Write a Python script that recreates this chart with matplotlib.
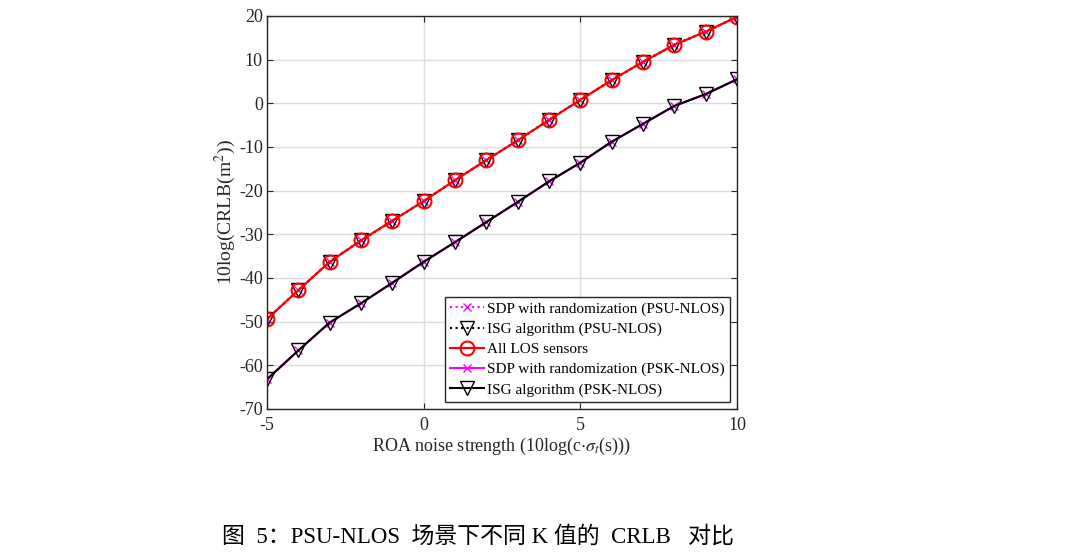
import numpy as np
import matplotlib
matplotlib.use("Agg")
import matplotlib.pyplot as plt

# datos
ruido = [-5, -4, -3, -2, -1, 0, 1, 2, 3, 4, 5, 6, 7, 8, 9, 10]
crlb_los = [-49.4, -42.8, -36.3, -31.4, -26.9, -22.4, -17.6, -13.0, -8.5, -3.8,
            0.8, 5.3, 9.5, 13.4, 16.4, 19.8]
crlb_psk = [-63.2, -56.6, -50.2, -45.8, -41.1, -36.3, -31.8, -27.2, -22.6, -17.9,
            -13.6, -8.8, -4.7, -0.6, 2.1, 5.5]
# en PSU-NLOS las curvas coinciden con la de todos los sensores LOS
crlb_sdp_psu = crlb_los
crlb_isg_psu = crlb_los
crlb_sdp_psk = crlb_psk
crlb_isg_psk = crlb_psk

etiquetas = ["SDP with randomization (PSU-NLOS)", "ISG algorithm (PSU-NLOS)",
             "All LOS sensors", "SDP with randomization (PSK-NLOS)",
             "ISG algorithm (PSK-NLOS)"]

plt.rcParams['font.family'] = ['Liberation Serif', 'Noto Sans CJK SC']
plt.rcParams['mathtext.fontset'] = 'stix'
plt.rcParams['axes.unicode_minus'] = False

gris = '#262626'

fig = plt.figure(figsize=(10.8, 5.53), dpi=100)
ax = fig.add_axes([0.2472, 0.2604, 0.4352, 0.7107])

ax.plot(ruido, crlb_sdp_psu, linestyle=':', color='magenta', marker='x',
        markersize=6, linewidth=1.5, label=etiquetas[0])
ax.plot(ruido, crlb_isg_psu, linestyle=':', color='black', marker='v',
        markersize=9.5, markerfacecolor='none', linewidth=1.5, label=etiquetas[1])
ax.plot(ruido, crlb_los, linestyle='-', color='red', marker='o',
        markersize=10, markerfacecolor='none', markeredgewidth=1.5,
        linewidth=1.6, label=etiquetas[2])
ax.plot(ruido, crlb_sdp_psk, linestyle='-', color='magenta', marker='x',
        markersize=6, linewidth=1.5, label=etiquetas[3])
ax.plot(ruido, crlb_isg_psk, linestyle='-', color='black', marker='v',
        markersize=9.5, markerfacecolor='none', linewidth=1.5, label=etiquetas[4])

ax.set_xlim(-5, 10)
ax.set_ylim(-70, 20)
ax.set_xticks([-5, 0, 5, 10])
ax.set_yticks(np.arange(-70, 21, 10))
ax.grid(True, color='#dcdcdc', linewidth=1)
ax.set_axisbelow(True)
ax.tick_params(direction='in', top=True, right=True, labelsize=13, length=4,
               colors=gris, labelcolor=gris, pad=3)
ax.tick_params(axis='x', pad=6)
for s in ax.spines.values():
    s.set_linewidth(1.0)
    s.set_color(gris)

ax.set_xlabel(r"ROA noise strength (10log(c$\cdot\sigma_t$(s)))", fontsize=13,
              color=gris, labelpad=1)
ax.set_ylabel(r"10log(CRLB(m$^2$))", fontsize=14, color=gris, labelpad=1)

leg = ax.legend(loc='lower right', fontsize=11, frameon=True, fancybox=False,
                framealpha=1, edgecolor=gris, borderpad=0.35, labelspacing=0.42,
                handlelength=2.2, handletextpad=0.2, borderaxespad=0.45)
leg.get_frame().set_linewidth(1.0)

fig.text(0.2056, 0.029, "图  5：PSU-NLOS  场景下不同 K 值的  CRLB   对比",
         fontsize=16.5, ha='left', va='center')

fig.savefig("out.png", dpi=100)
